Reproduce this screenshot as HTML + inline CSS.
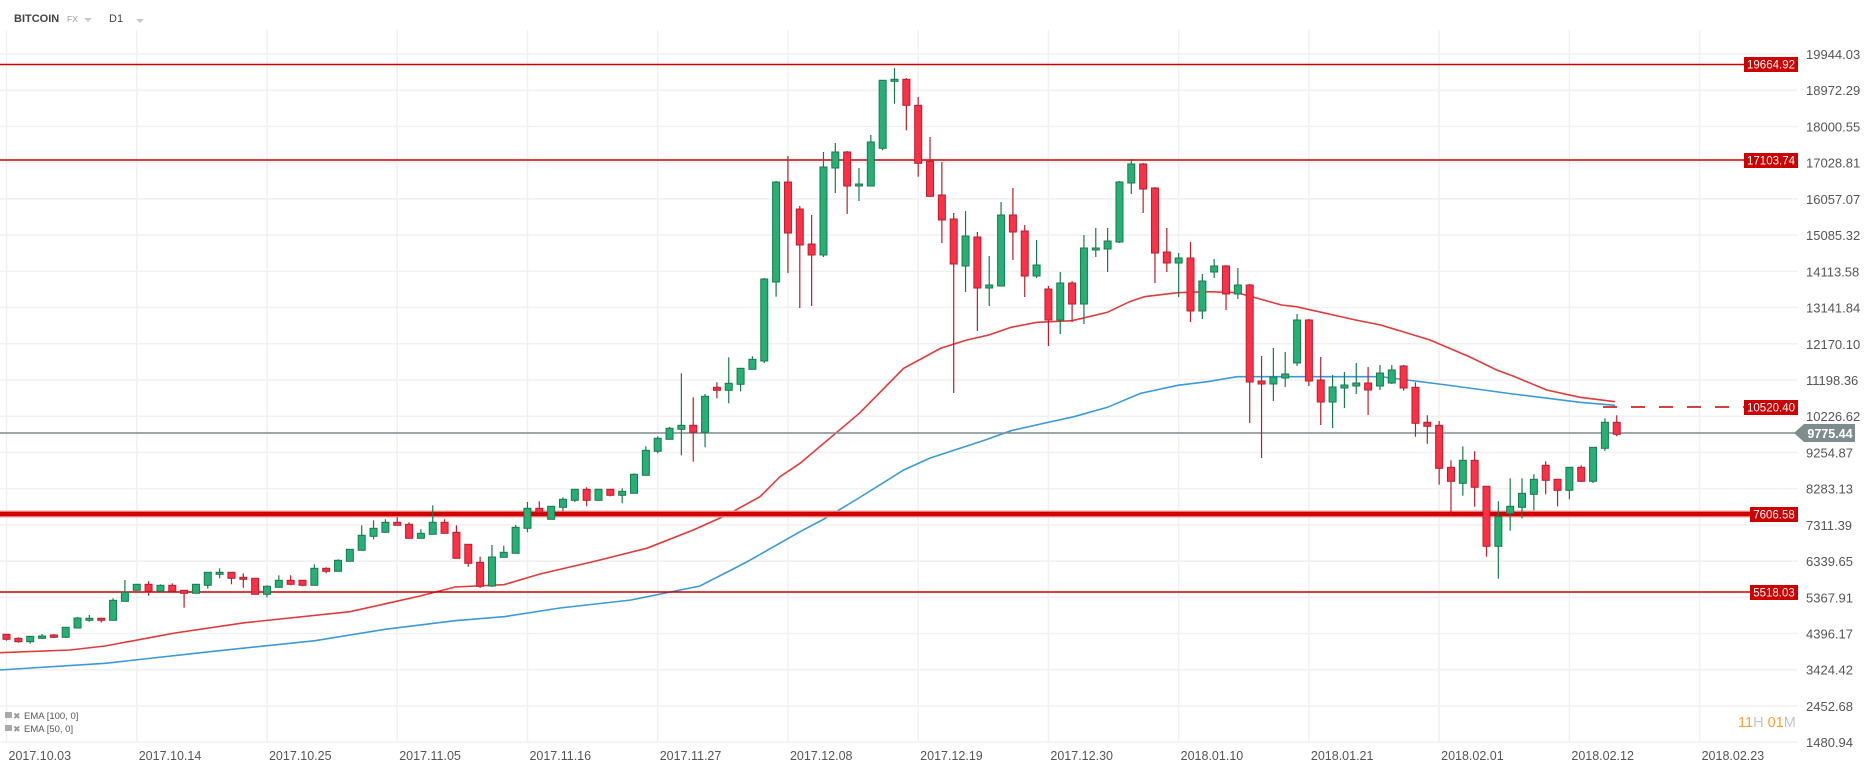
<!DOCTYPE html>
<html><head><meta charset="utf-8">
<style>
html,body{margin:0;padding:0;background:#fff;}
svg{display:block;font-family:"Liberation Sans",sans-serif;}
</style></head>
<body>
<svg id="c" width="1866" height="768" viewBox="0 0 1866 768" xmlns="http://www.w3.org/2000/svg"></svg>
<script>
var svg=document.getElementById('c');var h='';
function Y(p){return 54+(19944.03-p)*0.037274;}
function X(d){return 6.5+11.84*d;}
// grid
var labels=["19944.03","18972.29","18000.55","17028.81","16057.07","15085.32","14113.58","13141.84","12170.10","11198.36","10226.62","9254.87","8283.13","7311.39","6339.65","5367.91","4396.17","3424.42","2452.68","1480.94"];
for(var i=0;i<labels.length;i++){var y=54+i*36.22;
h+='<line x1="0" x2="1798" y1="'+y+'" y2="'+y+'" stroke="#f1f1f1" stroke-width="1.5"/>';
h+='<text x="1806" y="'+(y+5)+'" font-size="13" fill="#555">'+labels[i]+'</text>';}
var dates=["2017.10.03","2017.10.14","2017.10.25","2017.11.05","2017.11.16","2017.11.27","2017.12.08","2017.12.19","2017.12.30","2018.01.10","2018.01.21","2018.02.01","2018.02.12","2018.02.23"];
for(var i=0;i<dates.length;i++){var x=X(i*11);
h+='<line x1="'+x+'" x2="'+x+'" y1="30" y2="742" stroke="#f1f1f1" stroke-width="1.5"/>';
h+='<text x="'+(x+2)+'" y="760" font-size="12.5" fill="#555">'+dates[i]+'</text>';}
// EMA lines
var ema50=[[0,652.7],[70,650],[105,646],[175,633],[245,622.7],[350,611.7],[420,596],[455,587],[504,584.7],[540,574],[600,560],[646.7,548.3],[693.3,530],[726.7,515],[760,496.7],[780,476.7],[800,463.3],[859.3,413.3],[903.7,368.3],[940.7,348.3],[966.7,340],[988.9,335],[1011.1,327.3],[1037,322.3],[1072.2,320.7],[1107.4,312.3],[1129.6,301.7],[1144.4,296.7],[1177.8,292.7],[1207.4,291.7],[1237,292.7],[1281.5,305],[1296.3,306.7],[1355.6,320],[1380.7,325],[1430,340],[1470,357],[1496.7,370],[1513,376],[1546.7,390],[1580,397.3],[1615,401.7]];
var ema100=[[0,670],[105,663.3],[210,651.7],[315,640.7],[385,629.3],[455,620.7],[504,616.7],[560,608],[631,600],[700,586],[746.7,562],[800,531.7],[822.2,520],[855.6,500],[903.7,470],[929.6,458.3],[985.2,440],[1011.1,430.7],[1040.7,424],[1074,416.7],[1107.4,407.3],[1140.7,393.3],[1177.8,385.3],[1207.4,381.7],[1237,376.7],[1380.7,376.7],[1446.7,385],[1513,394],[1580,402.3],[1615,405.3]];
function pl(a,c){return '<polyline fill="none" stroke="'+c+'" stroke-width="1.6" points="'+a.map(function(p){return p.join(',')}).join(' ')+'"/>';}
h+=pl(ema50,'#e03a3a');h+=pl(ema100,'#3a9ad9');
// price lines
h+='<line x1="0" x2="1744" y1="64.5" y2="64.5" stroke="#cc0000" stroke-width="1.5"/>';
h+='<line x1="0" x2="1744" y1="160" y2="160" stroke="#cc0000" stroke-width="1.5"/>';
h+='<line x1="0" x2="1798" y1="433" y2="433" stroke="#7f8c8d" stroke-width="1.5"/>';
h+='<line x1="0" x2="1750" y1="514" y2="514" stroke="#f3a0a0" stroke-width="7"/>';
h+='<line x1="0" x2="1750" y1="514" y2="514" stroke="#d00000" stroke-width="4.5"/>';
h+='<line x1="0" x2="1750" y1="592" y2="592" stroke="#cc0000" stroke-width="1.5"/>';
h+='<line x1="1603" x2="1744" y1="407" y2="407" stroke="#cc0000" stroke-width="1.5" stroke-dasharray="14,14"/>';
// candles
var D=[[634.3,639.3,634,640.7],[638.3,641.7,637.3,642.7],[641.7,636.3,636,643.7],[638.3,636,634,639],[635,637.3,634,638],[637.3,627.3,627,638],[628,618,617,628.5],[620.3,618.3,615,621.7],[618.3,620.3,617.7,622.7],[620.3,600.3,598.3,620.5],[601.3,592.3,580,601.5],[590.3,584.3,584,590.5],[584.3,591.3,581.3,595.7],[591.3,585.3,584.3,591.5],[585.3,591.3,583.3,592.3],[590.3,593.3,590,607.7],[593.3,584.3,584,593.5],[585.3,572.3,572,588.7],[574.3,572.3,568.3,578.3],[572.3,578.3,572,584.3],[577.3,579.3,573.3,587.7],[578.3,594.3,578,594.5],[594.3,586.3,585.3,597.3],[587.3,580.3,575.3,587.5],[580.3,584.3,575.3,585.3],[580.3,585.3,580,586.3],[585.3,568.3,564.3,585.5],[568.3,571.3,567.3,573.3],[571.3,560.3,559.3,571.5],[561.3,549.3,549,561.5],[550.3,535.3,525.3,550.5],[536.3,528.3,520.3,539.3],[532.3,522.3,519.3,533],[522.3,525.3,517.3,525.5],[524.3,538.3,522.3,538.5],[538.3,533.3,529.3,538.5],[534.3,522.3,505.3,534.5],[522.3,533.3,519.3,533.5],[532.3,558.3,525.3,558.5],[544.3,563.3,544,566.7],[562.3,586.3,556.7,588],[586,557,545,587],[557.3,552.3,545.7,557.5],[553.3,527.3,525,553.5],[528.3,508.3,502,532.3],[508.3,512.3,501.3,513.3],[519.3,506.3,506,519.5],[507.3,499.3,497.3,511.3],[500.3,489.3,489,502],[489.3,500.3,487.3,506.3],[500.3,489.3,489,500.5],[489.3,495.3,489,496.3],[495.3,491.3,488.3,503.3],[493.3,474.3,473.3,493.5],[475.3,450.3,446.3,475.5],[451.3,438.3,436.3,453.3],[439.3,428.3,427,439.5],[429.3,425.3,373.3,455.3],[425.3,432.3,397.3,461.7],[432.3,396.3,394,447.3],[387.3,390.3,382.3,398.3],[390.3,383.3,357.3,403.3],[384.3,368.3,368,391.3],[369.3,359.3,356.3,369.5],[361,279,278,363],[282,182,181,296.7],[182,233,156,273],[209,245,206,308],[244,255,215,306],[255,167,152,257],[168,152,143,193],[152,186,151,214],[186,184,168,201],[186,142,135,186.5],[148.3,80.3,80,150.3],[81.3,79.3,68,103.7],[79.3,105.3,78,130.3],[105.3,163.3,97,176.7],[161.3,196.3,137,197],[195,220,162,243],[219,264,213,393],[266,236,211,292],[237,288,232,331],[288,285,256,306],[286,215,202,286.5],[215,232,188,260],[231,276,225,297],[276,265,240,278],[289,320,286,346],[320,283,272,334],[283,304,281,322],[304,248,235,324],[250,248,228,257],[249,241,228,272],[242,182,181,243],[183,164,159,194],[164,189,163,213],[188,253,187,283],[252,263,228,272],[263,258,253,297],[258,311,242,322],[311,281,274,319],[272,266,259,278],[266,294,265,310],[294,285,268,299],[285,382,284,423],[381,384,356,458],[384,377,348,401],[378,374,352,387],[363,320,314,366],[320,381,319,386],[380,402,357,425],[402,387,375,428],[388,385,372,408],[386,383,363,394],[383,390,367,415],[386,373,365,390],[383,370,365,384],[366,388,365,390.7],[387.3,423.3,382.3,436.7],[422.3,426.3,415.3,443.7],[425.3,468.3,421,484.7],[467.3,481.3,460.3,514.3],[483.3,460.3,446.3,495.7],[460.3,487.3,451.3,506.7],[486.3,546.3,486,556.7],[546.3,516.7,501.3,578.7],[513.3,506.3,478.3,530.7],[507.3,493.3,478.3,518.3],[494.3,479.3,474.3,510.3],[465.3,480.3,461.3,494.3],[479.3,490.3,479,506.3],[490.3,467.3,467,499.3],[467.3,481.3,465.3,482],[481.3,447.3,447,483],[448.3,422.3,418.3,451],[422.3,434.3,415.3,436.3]];
for(var d=0;d<D.length;d++){var o=D[d][0],c=D[d][1],hi=D[d][2],lo=D[d][3];var g=c<o;
var f=g?'#27b075':'#fd3146',s=g?'#187a4e':'#b51f31';var x=X(d);
var t=Math.min(o,c),b=Math.max(o,c);if(b-t<2)b=t+2;
h+='<line x1="'+x+'" x2="'+x+'" y1="'+hi+'" y2="'+lo+'" stroke="'+s+'" stroke-width="1.2"/>';
h+='<rect x="'+(x-3.5)+'" y="'+t+'" width="7" height="'+(b-t)+'" fill="'+f+'" stroke="'+s+'" stroke-width="1"/>';}
// labels
function box(x,y,w,t){return '<rect x="'+x+'" y="'+y+'" width="'+w+'" height="15" fill="#cc0000"/><text x="'+(x+w/2)+'" y="'+(y+11.5)+'" font-size="11.5" fill="#fff" text-anchor="middle">'+t+'</text>';}
h+=box(1744,57,54,'19664.92');h+=box(1744,153,54,'17103.74');h+=box(1744,400,54,'10520.40');
h+=box(1750,507,48,'7606.58');h+=box(1750,585,48,'5518.03');
h+='<polygon points="1794,433 1804,424 1855,424 1855,442 1804,442" fill="#7f8c8d"/><text x="1830" y="438" font-size="12.5" font-weight="bold" fill="#fff" text-anchor="middle">9775.44</text>';
h+='<text x="1738" y="727" font-size="14.5"><tspan fill="#f7a035">11</tspan><tspan fill="#c0c4c8">H </tspan><tspan fill="#f7a035">01</tspan><tspan fill="#c0c4c8">M</tspan></text>';
// header
h+='<text x="14" y="22" font-size="11" font-weight="bold" fill="#444">BITCOIN</text>';
h+='<text x="67" y="22" font-size="8.5" fill="#999">FX</text><polygon points="84,18 92,18 88,22" fill="#c8c8c8"/>';
h+='<text x="109" y="22" font-size="11" fill="#444">D1</text><polygon points="136,19 144,19 140,23" fill="#c8c8c8"/>';
// EMA legend
h+='<rect x="5" y="712" width="7" height="6" fill="#aaa"/><text x="13" y="719" font-size="9" fill="#999">✖</text><text x="24" y="719" font-size="9.5" fill="#555">EMA  [100, 0]</text>';
h+='<rect x="5" y="725" width="7" height="6" fill="#aaa"/><text x="13" y="732" font-size="9" fill="#999">✖</text><text x="24" y="732" font-size="9.5" fill="#555">EMA  [50, 0]</text>';
svg.innerHTML=h;
</script>
</body></html>
